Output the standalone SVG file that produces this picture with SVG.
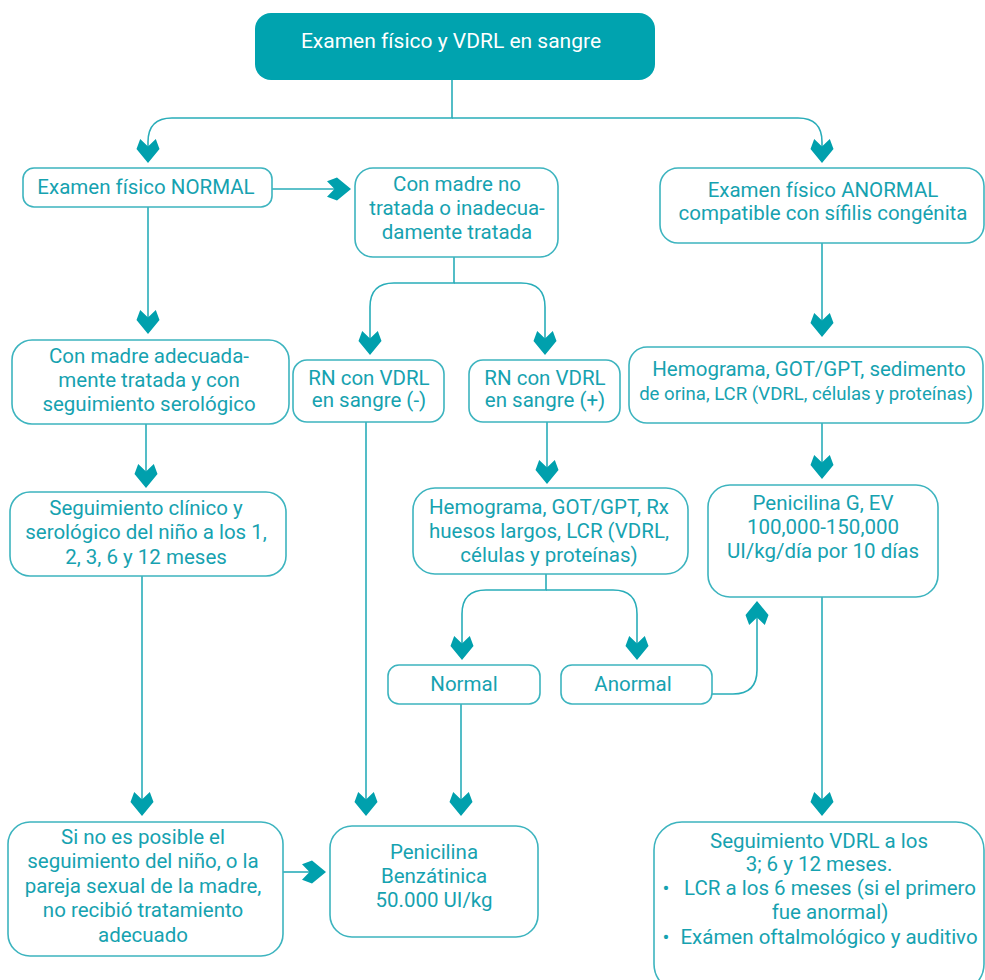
<svg xmlns="http://www.w3.org/2000/svg" xmlns:xlink="http://www.w3.org/1999/xlink" width="985" height="980" viewBox="0 0 985 980">
  <defs>
    <style>
      .box { fill: #ffffff; stroke: #3db4bf; stroke-width: 1.6; }
      .t { font-family: Roboto, "Liberation Sans", sans-serif; font-size: 20.5px; fill: #16a2b0; text-anchor: middle; }
      .t.sm { font-size: 18.6px; }
      .th { font-family: Roboto, "Liberation Sans", sans-serif; font-size: 21px; fill: #ffffff; text-anchor: middle; }
      .line { fill: none; stroke: #29adb9; stroke-width: 1.6; }
      .arrow { fill: #00a0ad; }
    </style>
    <!-- notched arrowhead, tip at origin, pointing down -->
    <path id="ah" class="arrow" d="M0,0 L-11.5,-14 L-7.8,-24 L0,-16.5 L7.8,-24 L11.5,-14 Z"/>
  </defs>

  <!-- connectors -->
  <g id="connectors">
    <path class="line" d="M452,80 V118 H172 Q148,118 148,142 V150"/>
    <path class="line" d="M452,118 H798 Q822,118 822,142 V150"/>
    <path class="line" d="M272,189 H340"/>
    <path class="line" d="M454,257 V283 H394 Q370,283 370,307 V345"/>
    <path class="line" d="M454,283 H521 Q545,283 545,307 V345"/>
    <path class="line" d="M148,207 V322"/>
    <path class="line" d="M146,424 V476"/>
    <path class="line" d="M142,576 V804"/>
    <path class="line" d="M283,872 H315"/>
    <path class="line" d="M366,422 V804"/>
    <path class="line" d="M547,422 V472"/>
    <path class="line" d="M546,574 V590 H486 Q462,590 462,614 V648"/>
    <path class="line" d="M546,590 H613 Q637,590 637,614 V648"/>
    <path class="line" d="M461,704 V804"/>
    <path class="line" d="M712,694 H733 Q757,694 757,670 V612"/>
    <path class="line" d="M822,243 V325"/>
    <path class="line" d="M822,423 V467"/>
    <path class="line" d="M822,597 V804"/>

    <use xlink:href="#ah" transform="translate(148,163)"/>
    <use xlink:href="#ah" transform="translate(822,163)"/>
    <use xlink:href="#ah" transform="translate(351,189) rotate(-90)"/>
    <use xlink:href="#ah" transform="translate(370,355)"/>
    <use xlink:href="#ah" transform="translate(545,355)"/>
    <use xlink:href="#ah" transform="translate(148,334)"/>
    <use xlink:href="#ah" transform="translate(146,488)"/>
    <use xlink:href="#ah" transform="translate(142,816)"/>
    <use xlink:href="#ah" transform="translate(326,872) rotate(-90)"/>
    <use xlink:href="#ah" transform="translate(366,816)"/>
    <use xlink:href="#ah" transform="translate(547,484)"/>
    <use xlink:href="#ah" transform="translate(462,660)"/>
    <use xlink:href="#ah" transform="translate(637,660)"/>
    <use xlink:href="#ah" transform="translate(461,816)"/>
    <use xlink:href="#ah" transform="translate(757,601) rotate(180)"/>
    <use xlink:href="#ah" transform="translate(822,337)"/>
    <use xlink:href="#ah" transform="translate(822,479)"/>
    <use xlink:href="#ah" transform="translate(822,816)"/>
  </g>

  <g id="start">
    <rect x="255" y="13" width="400" height="67" rx="16" fill="#00a3af"/>
    <text class="th" x="451" y="48">Examen físico y VDRL en sangre</text>
  </g>

  <g id="normal-exam">
    <rect class="box" x="23" y="168" width="249" height="39" rx="11"/>
    <text class="t" x="146" y="194">Examen físico NORMAL</text>
  </g>

  <g id="untreated-mother">
    <rect class="box" x="355" y="168" width="203" height="89" rx="18"/>
    <text class="t" x="457" y="191">Con madre no</text>
    <text class="t" x="457" y="215">tratada o inadecua-</text>
    <text class="t" x="457" y="239">damente tratada</text>
  </g>

  <g id="abnormal-exam">
    <rect class="box" x="660" y="168" width="324" height="75" rx="18"/>
    <text class="t" x="823" y="197">Examen físico ANORMAL</text>
    <text class="t" x="823" y="220">compatible con sífilis congénita</text>
  </g>

  <g id="treated-mother">
    <rect class="box" x="12" y="340" width="277" height="84" rx="20"/>
    <text class="t" x="149" y="363">Con madre adecuada-</text>
    <text class="t" x="149" y="387">mente tratada y con</text>
    <text class="t" x="149" y="411">seguimiento serológico</text>
  </g>

  <g id="rn-negative">
    <rect class="box" x="293" y="360" width="151" height="62" rx="14"/>
    <text class="t" x="369" y="385">RN con VDRL</text>
    <text class="t" x="369" y="407">en sangre (-)</text>
  </g>

  <g id="rn-positive">
    <rect class="box" x="469" y="360" width="151" height="62" rx="14"/>
    <text class="t" x="545" y="385">RN con VDRL</text>
    <text class="t" x="545" y="407">en sangre (+)</text>
  </g>

  <g id="labs-abnormal">
    <rect class="box" x="629" y="347" width="354" height="76" rx="18"/>
    <text class="t" x="809" y="376">Hemograma, GOT/GPT, sedimento</text>
    <text class="t sm" x="806" y="400">de orina, LCR (VDRL, células y proteínas)</text>
  </g>

  <g id="clinical-followup">
    <rect class="box" x="10" y="492" width="276" height="84" rx="20"/>
    <text class="t" x="146" y="515">Seguimiento clínico y</text>
    <text class="t" x="146" y="539">serológico del niño a los 1,</text>
    <text class="t" x="146" y="564">2, 3, 6 y 12 meses</text>
  </g>

  <g id="labs-positive">
    <rect class="box" x="413" y="488" width="275" height="86" rx="22"/>
    <text class="t" x="549" y="514">Hemograma, GOT/GPT, Rx</text>
    <text class="t" x="549" y="538">huesos largos, LCR (VDRL,</text>
    <text class="t" x="549" y="562">células y proteínas)</text>
  </g>

  <g id="penicillin-g">
    <rect class="box" x="708" y="485" width="230" height="112" rx="22"/>
    <text class="t" x="823" y="510">Penicilina G, EV</text>
    <text class="t" x="823" y="534">100,000-150,000</text>
    <text class="t" x="823" y="558">UI/kg/día por 10 días</text>
  </g>

  <g id="result-normal">
    <rect class="box" x="388" y="665" width="152" height="39" rx="11"/>
    <text class="t" x="464" y="691">Normal</text>
  </g>

  <g id="result-abnormal">
    <rect class="box" x="561" y="665" width="151" height="39" rx="11"/>
    <text class="t" x="633" y="691">Anormal</text>
  </g>

  <g id="no-followup">
    <rect class="box" x="8" y="822" width="275" height="134" rx="22"/>
    <text class="t" x="143" y="844">Si no es posible el</text>
    <text class="t" x="143" y="868">seguimiento del niño, o la</text>
    <text class="t" x="143" y="893">pareja sexual de la madre,</text>
    <text class="t" x="143" y="917">no recibió tratamiento</text>
    <text class="t" x="143" y="942">adecuado</text>
  </g>

  <g id="benzathine">
    <rect class="box" x="330" y="826" width="208" height="111" rx="22"/>
    <text class="t" x="434" y="859">Penicilina</text>
    <text class="t" x="434" y="883">Benzátinica</text>
    <text class="t" x="434" y="907">50.000 UI/kg</text>
  </g>

  <g id="vdrl-followup">
    <rect class="box" x="654" y="822" width="330" height="170" rx="28"/>
    <text class="t" x="819" y="848">Seguimiento VDRL a los</text>
    <text class="t" x="819" y="871">3; 6 y 12 meses.</text>
    <text class="t" x="666" y="895" text-anchor="start">•</text>
    <text class="t" x="830" y="895">LCR  a los 6 meses (si el primero</text>
    <text class="t" x="830" y="919">fue anormal)</text>
    <text class="t" x="666" y="944" text-anchor="start">•</text>
    <text class="t" x="829" y="944">Exámen oftalmológico y auditivo</text>
  </g>
</svg>
